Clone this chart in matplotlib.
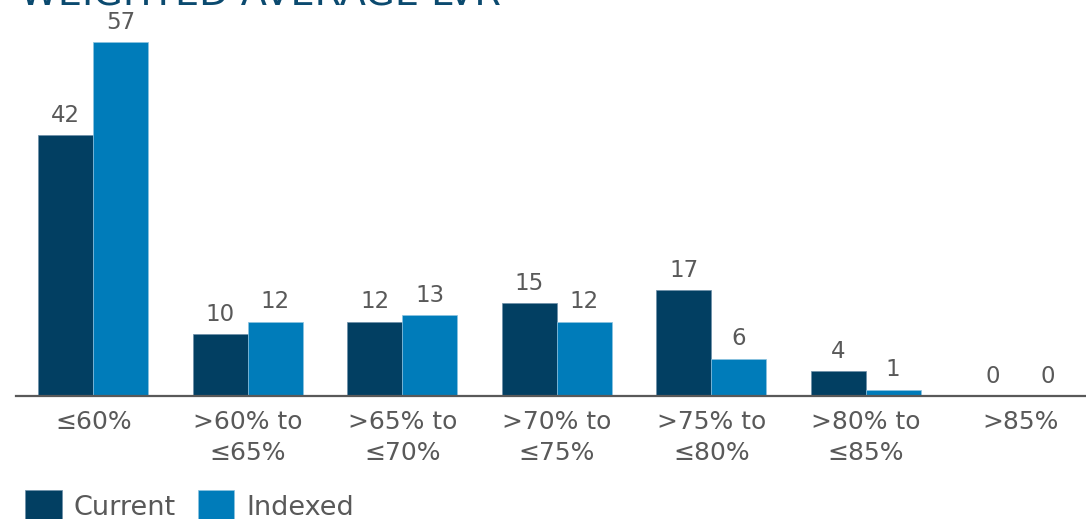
import matplotlib
matplotlib.use("Agg")
import matplotlib.pyplot as plt
import numpy as np

categories = ["≤60%", ">60% to\n≤65%", ">65% to\n≤70%", ">70% to\n≤75%",
              ">75% to\n≤80%", ">80% to\n≤85%", ">85%"]
current = [42, 10, 12, 15, 17, 4, 0]
indexed = [57, 12, 13, 12, 6, 1, 0]

c_cur = "#023F62"
c_idx = "#007CBA"
txt = "#595959"

plt.rcParams['font.family'] = ['DejaVu Sans']
fig = plt.figure(figsize=(10.86, 5.19), dpi=100)
W, H = 1086, 519
ax = fig.add_axes([16 / W, (H - 396) / H, (1086 - 16) / W, 396 / H])

x = np.arange(len(categories))
bw = 55 / 154.5
b1 = ax.bar(x - bw / 2, current, bw, color=c_cur, edgecolor="#6d8fa8", linewidth=0.5, label="Current")
b2 = ax.bar(x + bw / 2, indexed, bw, color=c_idx, edgecolor="#8cc3e0", linewidth=0.5, label="Indexed")

for bars, vals in ((b1, current), (b2, indexed)):
    for r, v in zip(bars, vals):
        ax.annotate(f"{v}", (r.get_x() + r.get_width() / 2, r.get_height()),
                    xytext=(0, 6), textcoords="offset points",
                    ha="center", va="bottom", fontsize=16.5, color=txt)

ax.set_xlim(-0.5, 6.426)
ax.set_ylim(0, 63.8)
ax.set_xticks(x)
ax.set_xticklabels(categories, fontsize=18, color=txt, linespacing=1.4)
ax.tick_params(axis="x", length=0, pad=10)
ax.set_yticks([])
for s in ("top", "right", "left"):
    ax.spines[s].set_visible(False)
ax.spines["bottom"].set_color(txt)
ax.spines["bottom"].set_linewidth(1.6)
ax.set_facecolor("none")

fig.text(20 / W, (H - 5) / H, "WEIGHTED AVERAGE LVR", fontsize=27.5, color="#0B4A6F",
         ha="left", va="baseline")

fig.legend(handles=[b1, b2], labels=["Current", "Indexed"], loc="upper left",
           bbox_to_anchor=(25 / W, (H - 490) / H), ncol=2, frameon=False,
           fontsize=19.5, handlelength=1.35, handleheight=1.4, handletextpad=0.45,
           columnspacing=0.8, labelcolor=txt, borderaxespad=0, borderpad=0)

fig.savefig("out.png", dpi=100)
